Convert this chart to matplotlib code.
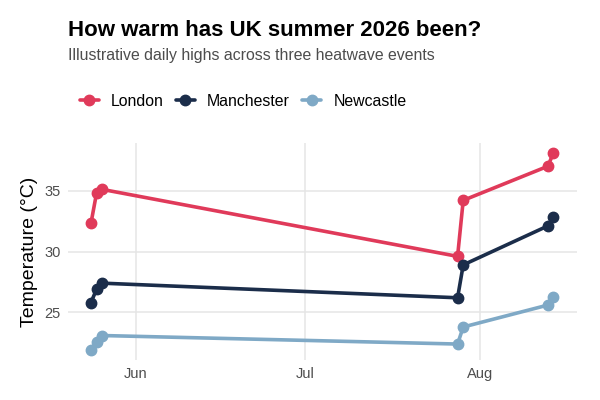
import numpy as np
import pandas as pd
import matplotlib
matplotlib.use("Agg")
import matplotlib.pyplot as plt
import matplotlib.dates as mdates

plt.rcParams['font.family'] = ['Liberation Sans', 'DejaVu Sans']

dates = pd.to_datetime([
	"2026-05-24", "2026-05-25", "2026-05-26",
	"2026-07-28", "2026-07-29",
	"2026-08-13", "2026-08-14",
])
london = [32.3, 34.8, 35.1, 29.6, 34.2, 37.0, 38.1]
manchester = [25.8, 26.9, 27.4, 26.2, 28.9, 32.1, 32.8]
newcastle = [21.9, 22.6, 23.1, 22.4, 23.8, 25.6, 26.3]

cities = ["London", "Manchester", "Newcastle"]
colors = ["#E03A5A", "#1B2D4A", "#7FA9C6"]

fig = plt.figure(figsize=(6, 4), dpi=100)
ax = fig.add_axes([0.113, 0.1, 0.848, 0.5425])

for name, vals, col in zip(cities, [london, manchester, newcastle], colors):
	ax.plot(dates, vals, color=col, lw=2.6, marker="o", ms=7.5, label=name,
		solid_capstyle="round", zorder=3)

# ggplot-style 5% padding
ax.margins(x=0.05, y=0.05)
ax.set_yticks([25, 30, 35])
ax.xaxis.set_major_locator(mdates.MonthLocator())
ax.xaxis.set_major_formatter(mdates.DateFormatter("%b"))

ax.grid(True, color="#E5E5E5", lw=1.1)
ax.set_axisbelow(True)
for s in ax.spines.values():
	s.set_visible(False)
ax.tick_params(length=0, labelsize=10.5, labelcolor="#4D4D4D", pad=5)
ax.set_ylabel("Temperature (°C)", fontsize=14, labelpad=5)

fig.text(0.113, 0.925, "How warm has UK summer 2026 been?", fontsize=16,
	fontweight="bold", va="center")
fig.text(0.113, 0.862, "Illustrative daily highs across three heatwave events",
	fontsize=11.4, color="#4D4D4D", va="center")

fig.legend(loc="center left", bbox_to_anchor=(0.133, 0.747), ncol=3,
	frameon=False, fontsize=11.4, handlelength=1.2, handletextpad=0.78,
	columnspacing=0.75, borderaxespad=0, borderpad=0)

fig.savefig("out.png", dpi=100)
